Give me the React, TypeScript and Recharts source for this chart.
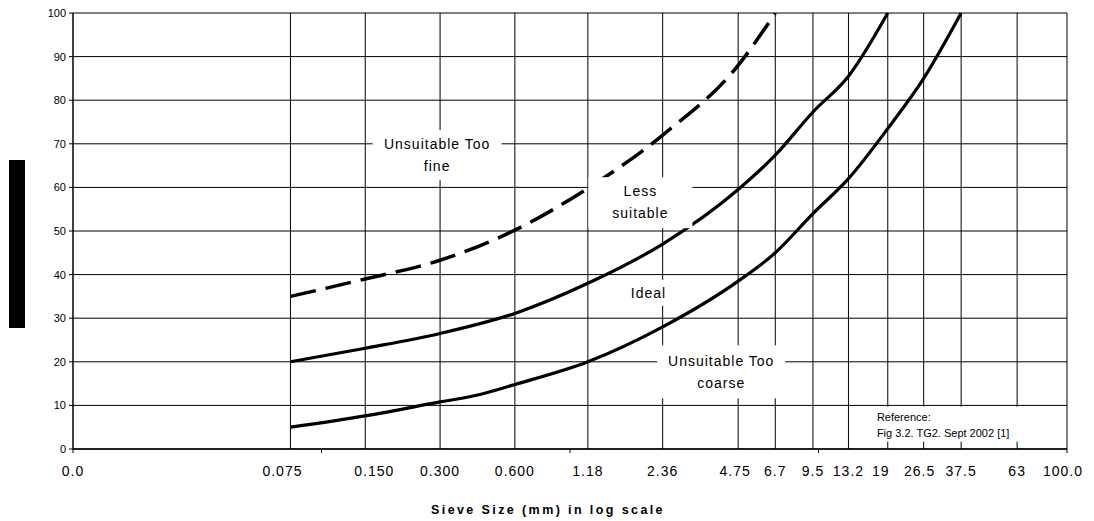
import React from "react";
import {
  LineChart,
  Line,
  XAxis,
  YAxis,
  CartesianGrid,
  ReferenceLine,
  ReferenceDot,
  Label,
} from "recharts";

// sieve sizes (mm) and % passing for the three envelope limits
const sieveSizes = [0.075, 0.15, 0.3, 0.425, 0.6, 1.18, 2.36, 4.75, 6.7, 9.5, 13.2, 19, 26.5, 37.5];
const tooFineLimit = [35, 39, 43.3, null, 50.2, 59.8, 72, 88, 100, null, null, null, null, null];
const idealFineLimit = [20, 23.1, 26.5, null, 31.1, 38, 47, 59.5, 67.4, 77.3, 85.5, 100, null, null];
const idealCoarseLimit = [5, 7.6, 10.8, 12.4, 14.8, 20, 28, 38.5, 45, 54, 62, 73.5, 85, 100];

// x axis labels (sieve gridlines) and the log decade marks
const tickValues = [0.01, 0.075, 0.15, 0.3, 0.6, 1.18, 2.36, 4.75, 6.7, 9.5, 13.2, 19, 26.5, 37.5, 63, 100];
const tickLabels = ["0.0", "0.075", "0.150", "0.300", "0.600", "1.18", "2.36", "4.75", "6.7", "9.5", "13.2", "19", "26.5", "37.5", "63", "100.0"];
const decadeMarks = [0.01, 0.1, 1, 10, 100];
const yTicks = [0, 10, 20, 30, 40, 50, 60, 70, 80, 90, 100];

const notes = [
  { lines: ["Unsuitable Too", "fine"], x: 0.292, y: 67.4 },
  { lines: ["Less", "suitable"], x: 1.92, y: 56.5 },
  { lines: ["Ideal"], x: 2.07, y: 35.8 },
  { lines: ["Unsuitable Too", "coarse"], x: 4.06, y: 17.7 },
  { lines: ["Reference:", "Fig 3.2. TG2. Sept 2002 [1]"], x: 33.1, y: 5.7 },
];

// box sizes / text placement for each note, same order as notes
const noteBoxes = [
  { w: 129, h: 50, dy: [-11, 10.6], size: 14, spacing: 1, left: 0 },
  { w: 104, h: 51, dy: [-12, 10], size: 14, spacing: 1, left: 0 },
  { w: 56, h: 26, dy: [0], size: 14, spacing: 1, left: 0 },
  { w: 128, h: 53, dy: [-11, 11], size: 14, spacing: 1, left: 0 },
  { w: 155, h: 35, dy: [-7.4, 8.9], size: 11, spacing: 0, left: 6.7 },
];

const labelNudge: Record<string, number> = {
  "0.075": -8,
  "0.150": 9,
  "4.75": -3,
  "19": -7,
  "26.5": -4,
  "100.0": -4,
};

const FONT = "'Liberation Sans', Arial, sans-serif";

const chartData = sieveSizes.map((size, i) => ({
  size,
  tooFine: tooFineLimit[i],
  idealFine: idealFineLimit[i],
  idealCoarse: idealCoarseLimit[i],
}));

const allTicks = Array.from(new Set([...tickValues, ...decadeMarks])).sort((a, b) => a - b);

const SieveTick = (props: any) => {
  const { x, y, payload } = props;
  const v = payload.value;
  const i = tickValues.indexOf(v);
  return (
    <g>
      {decadeMarks.includes(v) && <line x1={x} y1={y} x2={x} y2={y + 4} stroke="#000" strokeWidth={1} />}
      {i >= 0 && (
        <text
          x={x + (labelNudge[tickLabels[i]] ?? 0)}
          y={y + 22}
          textAnchor="middle"
          dominantBaseline="central"
          fontSize={14}
          letterSpacing={1}
          fontFamily={FONT}
          fill="#000"
        >
          {tickLabels[i]}
        </text>
      )}
    </g>
  );
};

const noteShape = (k: number) => (p: any) => {
  const box = noteBoxes[k];
  const note = notes[k];
  const left = p.cx - box.w / 2;
  return (
    <g>
      <rect x={left} y={p.cy - box.h / 2} width={box.w} height={box.h} fill="#fff" />
      {note.lines.map((t, j) => (
        <text
          key={j}
          x={box.left ? left + box.left : p.cx}
          y={p.cy + box.dy[j]}
          textAnchor={box.left ? "start" : "middle"}
          dominantBaseline="central"
          fontSize={box.size}
          letterSpacing={box.spacing}
          fontFamily={FONT}
          fill="#000"
        >
          {t}
        </text>
      ))}
    </g>
  );
};

const AxisTitle = (props: any) => {
  const vb = props.viewBox;
  return (
    <text
      x={vb.x + vb.width / 2 - 22}
      y={vb.y + 61}
      textAnchor="middle"
      dominantBaseline="central"
      fontSize={12.5}
      fontWeight="bold"
      letterSpacing={2.4}
      fontFamily={FONT}
      fill="#000"
    >
      Sieve Size (mm) in log scale
    </text>
  );
};

export default function App() {
  return (
    <div style={{ position: "relative", width: 1094, height: 521, background: "#fff", fontFamily: FONT }}>
      <style>{`body{margin:0}`}</style>
      <div style={{ position: "absolute", left: 9, top: 160, width: 16, height: 168, background: "#000" }} />
      <LineChart width={1094} height={521} data={chartData} margin={{ top: 13, right: 27, bottom: 12, left: 33 }}>
        <CartesianGrid vertical={false} stroke="#000" strokeWidth={1} />
        {tickValues.slice(1).map((v) => (
          <ReferenceLine key={v} x={v} stroke="#000" strokeWidth={1} />
        ))}
        <XAxis
          dataKey="size"
          type="number"
          scale="log"
          domain={[0.01, 100]}
          allowDataOverflow
          ticks={allTicks}
          interval={0}
          tick={<SieveTick />}
          tickLine={false}
          tickSize={0}
          tickMargin={0}
          height={60}
          axisLine={{ stroke: "#000", strokeWidth: 1.5 }}
        >
          <Label content={<AxisTitle />} />
        </XAxis>
        <YAxis
          type="number"
          domain={[0, 100]}
          ticks={yTicks}
          interval={0}
          width={40}
          tickSize={4}
          tickMargin={3}
          axisLine={{ stroke: "#000", strokeWidth: 1.5 }}
          tickLine={{ stroke: "#000" }}
          tick={{ fontSize: 11, fill: "#000", fontFamily: FONT }}
        />
        <Line
          dataKey="tooFine"
          type="monotone"
          stroke="#000"
          strokeWidth={3.5}
          strokeDasharray="26 10"
          dot={false}
          connectNulls
          isAnimationActive={false}
        />
        <Line
          dataKey="idealFine"
          type="monotone"
          stroke="#000"
          strokeWidth={3.2}
          dot={false}
          connectNulls
          isAnimationActive={false}
        />
        <Line
          dataKey="idealCoarse"
          type="monotone"
          stroke="#000"
          strokeWidth={3.2}
          dot={false}
          connectNulls
          isAnimationActive={false}
        />
        {notes.map((n, k) => (
          <ReferenceDot
            key={k}
            x={n.x}
            y={n.y}
            r={1}
            zIndex={1500}
            shape={noteShape(k)}
          />
        ))}
      </LineChart>
    </div>
  );
}
